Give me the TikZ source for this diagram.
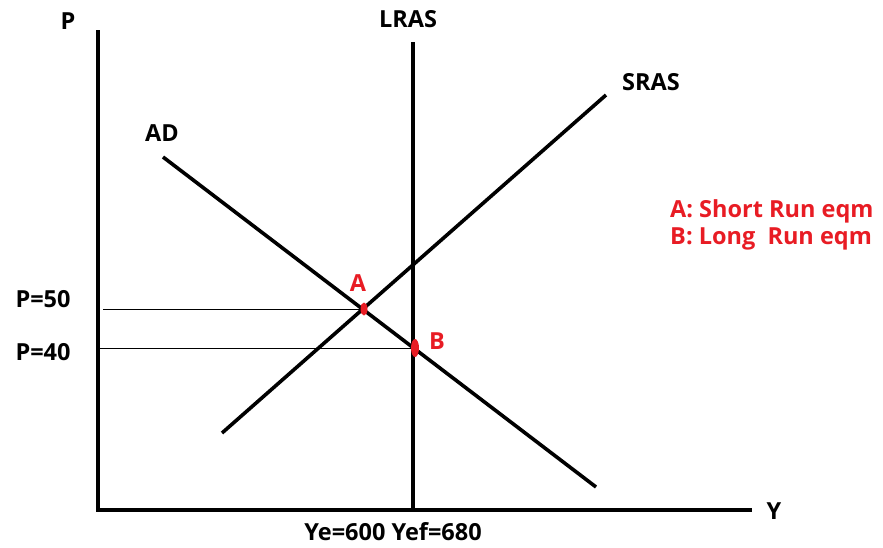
\documentclass[tikz,border=0pt]{standalone}
\usepackage{fontspec}
\setmainfont{Open Sans}
\definecolor{eqred}{RGB}{232,28,36}
\begin{document}
\begin{tikzpicture}[x=1pt,y=-1pt,
  curve/.style={line width=3.6pt},
  guide/.style={line width=0.8pt},
  lab/.style={font=\bfseries\fontsize{23.5}{26}\selectfont, inner sep=0pt},
  redlab/.style={lab,text=eqred},
  eqpt/.style={fill=eqred,draw=none,ellipse}]
\useasboundingbox (0,0) rectangle (883,547);
% axes
\coordinate (O) at (98,510);
\coordinate (Ptop) at (98,30);
\coordinate (Yend) at (752,510);
\draw[curve] (Ptop) -- (O) -- (Yend);
% curves
\coordinate (LRtop) at (413,42);
\coordinate (LRbot) at (413,510);
\draw[curve] (LRtop) -- (LRbot);
\coordinate (SRa) at (222,433);
\coordinate (SRb) at (606,95);
\draw[curve] (SRa) -- (SRb);
\coordinate (ADa) at (163,157);
\coordinate (ADb) at (596,487);
\draw[curve] (ADa) -- (ADb);
% equilibrium points
\coordinate (A) at (364,309);
\coordinate (B) at (415,348);
\coordinate (P50) at (103,309);
\coordinate (P40) at (100,348);
\draw[guide] (P50) -- (A);
\draw[guide] (P40) -- (B);
\fill[eqred] (A) ellipse [x radius=3.5pt, y radius=6.5pt];
\fill[eqred] (B) ellipse [x radius=4pt, y radius=9pt];
% labels
\node[lab] (lP) at (68,21) {P};
\node[lab] (lY) at (774,511) {Y};
\node[lab] (lLRAS) at (408,19) {LRAS};
\node[lab] (lSRAS) at (651,82) {SRAS};
\node[lab] (lAD) at (162,133) {AD};
\node[lab] (l50) at (43,299) {P=50};
\node[lab] (l40) at (43,352) {P=40};
\node[lab] (lYe) at (393,532) {Ye=600 Yef=680};
\node[redlab] (lA) at (358,283) {A};
\node[redlab] (lB) at (437,341) {B};
\node[redlab, anchor=west] (leg1) at (670,211) {A: Short Run eqm};
\node[redlab, anchor=west] (leg2) at (670,239) {B: Long\ \ Run eqm};
\end{tikzpicture}
\end{document}
